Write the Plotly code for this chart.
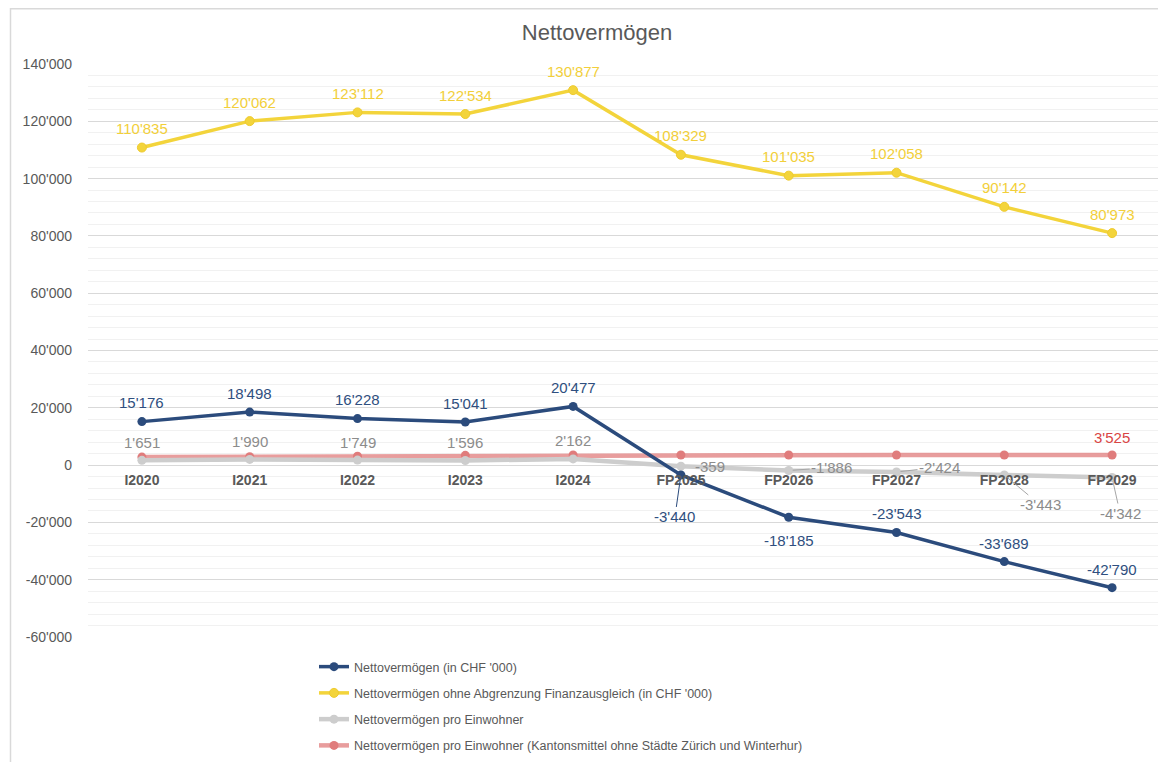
import plotly.graph_objects as go

categories = ["I2020", "I2021", "I2022", "I2023", "I2024",
              "FP2025", "FP2026", "FP2027", "FP2028", "FP2029"]
netto = [15176, 18498, 16228, 15041, 20477, -3440, -18185, -23543, -33689, -42790]
netto_ohne_fa = [110835, 120062, 123112, 122534, 130877, 108329, 101035, 102058, 90142, 80973]
pro_einwohner = [1651, 1990, 1749, 1596, 2162, -359, -1886, -2424, -3443, -4342]
kantonsmittel = [2800, 2900, 3100, 3400, 3525, 3525, 3525, 3525, 3525, 3525]
kantonsmittel_labelled = [False] * 9 + [True]

y_tickvals = [-60000, -40000, -20000, 0, 20000, 40000, 60000, 80000, 100000, 120000, 140000]
y_min, y_max = -60000, 140000

names = ["Nettovermögen (in CHF '000)",
         "Nettovermögen ohne Abgrenzung Finanzausgleich (in CHF '000)",
         "Nettovermögen pro Einwohner",
         "Nettovermögen pro Einwohner (Kantonsmittel ohne Städte Zürich und Winterhur)"]

FONT = "Liberation Sans, Arial, sans-serif"
C_BLUE = "#2B4B7C"
C_YEL = "#F3D43B"
C_GRAY = "#CDCDCD"
C_RED = "#E07C7C"
TXT = "#595959"
LBL = 15


def fmt(v):
    s = f"{abs(v):,}".replace(",", "'")
    return ("-" if v < 0 else "") + s


fig = go.Figure()

fig.add_trace(go.Scatter(x=categories, y=kantonsmittel, name=names[3], mode="lines+markers",
                         line=dict(color="rgba(224,124,124,0.75)", width=4.5),
                         marker=dict(color=C_RED, size=9), legendrank=4, legendgroup="d"))
fig.add_trace(go.Scatter(x=categories, y=pro_einwohner, name=names[2], mode="lines+markers",
                         line=dict(color=C_GRAY, width=4.5),
                         marker=dict(color=C_GRAY, size=9), legendrank=3, legendgroup="c"))
fig.add_trace(go.Scatter(x=categories, y=netto_ohne_fa, name=names[1], mode="lines+markers",
                         line=dict(color=C_YEL, width=3.5),
                         marker=dict(color=C_YEL, size=9, line=dict(color="#EFCB2E", width=1)),
                         legendrank=2, legendgroup="b"))
fig.add_trace(go.Scatter(x=categories, y=netto, name=names[0], mode="lines+markers",
                         line=dict(color=C_BLUE, width=3.5),
                         marker=dict(color=C_BLUE, size=9), legendrank=1, legendgroup="a"))

annotations = []

# label placements (pixel offsets): ("shift", xshift, yshift, xanchor) or ("arrow", ax, ay)
blue_place = [("shift", 0, 19, "center")] * 5 + [("arrow", -6, 42), ("shift", 0, -23, "center"),
              ("shift", 0, 19, "center"), ("shift", 0, 18, "center"), ("shift", 0, 18, "center")]
yel_place = [("shift", 0, 19, "center")] * 10
gray_place = [("shift", 0, 18, "center")] * 5 + [("shift", 12, 0, "left"), ("arrow", 43, -3),
              ("arrow", 43, -5), ("arrow", 36, 30), ("arrow", 8, 36)]
red_place = [("shift", 0, 18, "center")] * 10


def add_labels(values, places, color, arrowcolor, show=None):
    for i, (c, v) in enumerate(zip(categories, values)):
        if show is not None and not show[i]:
            continue
        p = places[i]
        base = dict(x=c, y=v, xref="x", yref="y", text=fmt(v),
                    font=dict(family=FONT, size=LBL, color=color))
        if p[0] == "shift":
            base.update(showarrow=False, xshift=p[1], yshift=p[2], xanchor=p[3], yanchor="middle")
        else:
            base.update(showarrow=True, ax=p[1], ay=p[2], axref="pixel", ayref="pixel",
                        arrowhead=0, arrowwidth=1, arrowcolor=arrowcolor, standoff=4,
                        startstandoff=0)
        annotations.append(base)


add_labels(netto, blue_place, "#2F4F80", C_BLUE)
add_labels(netto_ohne_fa, yel_place, "#F2CF3A", C_YEL)
add_labels(pro_einwohner, gray_place, "#8C8C8C", "#A6A6A6")
add_labels(kantonsmittel, red_place, "#D94545", C_RED, kantonsmittel_labelled)

# figure-pixel layout (page body adds an 8px offset)
W, H = 1166, 762
L, R, T, B = 80, 8, 56, 0
PLOT_BOTTOM = 629
pw, ph = W - L - R, H - T - B
dom0 = (H - PLOT_BOTTOM) / ph
zero_frac = (0 - y_min) / (y_max - y_min)

fig.update_layout(
    width=W, height=H,
    margin=dict(l=L, r=R, t=T, b=B, pad=0, autoexpand=False),
    paper_bgcolor="white", plot_bgcolor="white",
    font=dict(family=FONT, color=TXT, size=13),
    title=dict(text="Nettovermögen", x=589 / W, xref="container", xanchor="center",
               y=1 - 24 / H, yref="container", yanchor="middle",
               font=dict(family=FONT, size=22, color=TXT)),
    xaxis=dict(type="category", range=[-0.5, 9.5], showgrid=False, showline=False,
               zeroline=False, ticks="", anchor="free",
               position=dom0 + zero_frac * (1 - dom0),
               tickfont=dict(family=FONT, size=14, color=TXT, weight="bold"),
               ticklabelstandoff=5),
    yaxis=dict(domain=[dom0, 1], range=[y_min, y_max], tickvals=y_tickvals,
               ticktext=[fmt(v) for v in y_tickvals],
               showgrid=True, gridcolor="#D9D9D9", gridwidth=1, zeroline=True,
               zerolinecolor="#D9D9D9", zerolinewidth=1, showline=False, ticks="",
               ticklabelstandoff=15,
               tickfont=dict(family=FONT, size=14, color=TXT),
               minor=dict(dtick=4000, showgrid=True, gridcolor="#F1F1F1", gridwidth=1)),
    legend=dict(x=(306 - L) / pw, y=(H - 644) / ph, xanchor="left", yanchor="top",
                orientation="v", traceorder="grouped", tracegroupgap=7,
                font=dict(family=FONT, size=12.5, color=TXT), bgcolor="rgba(0,0,0,0)",
                itemwidth=30),
    annotations=annotations,
    shapes=[dict(type="rect", xref="paper", yref="paper",
                 x0=(2.5 - L) / pw, x1=(W + 5 - L) / pw,
                 y0=-0.05, y1=1 + (T - 0.75) / ph,
                 line=dict(color="#D9D9D9", width=1.5), layer="below")],
    showlegend=True,
)

fig.write_html("out.html")
